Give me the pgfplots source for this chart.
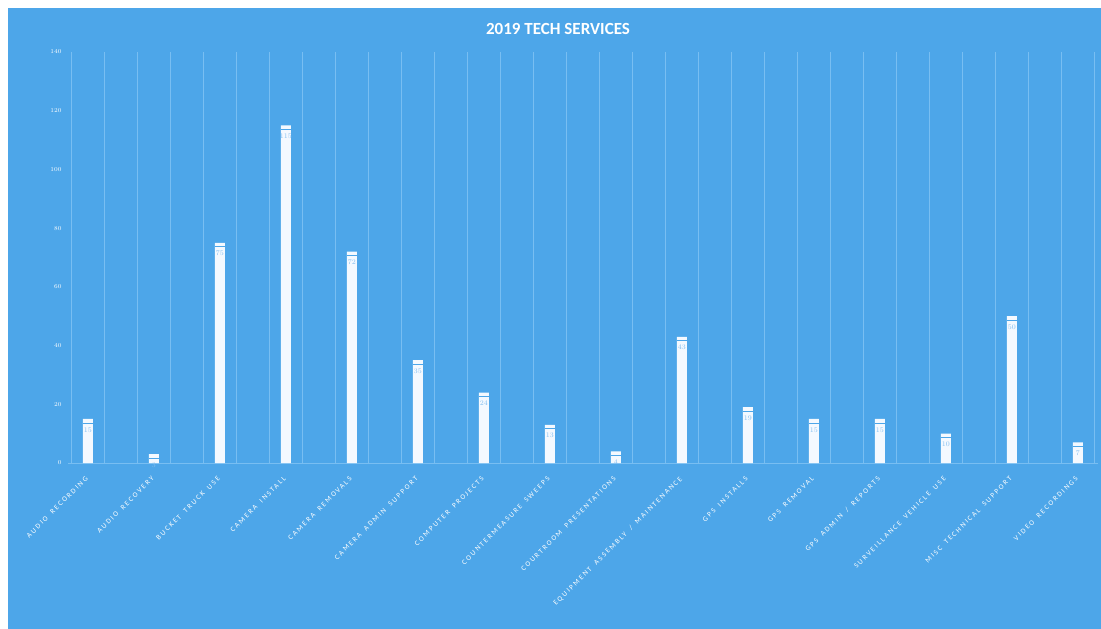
\documentclass[border=0pt]{standalone}
\usepackage{pgfplots}
\pgfplotsset{compat=1.18}
\usepackage{pgfplotstable}
\usepackage{fontspec}
\setmainfont{Carlito}
\newfontfamily\spaced[LetterSpace=26, WordSpace=1.7]{Carlito}
\definecolor{bg}{RGB}{77,166,233}
\definecolor{gridc}{RGB}{120,190,242}
\definecolor{lbl}{RGB}{130,190,240}
\definecolor{barc}{RGB}{244,249,255}

\pgfplotstableread{
x v
0 15
1 3
2 75
3 115
4 72
5 35
6 24
7 13
8 4
9 43
10 19
11 15
12 15
13 10
14 50
15 7
}\datatable

\begin{document}
\begin{tikzpicture}
\path[use as bounding box] (-68pt,-166pt) rectangle (1033pt,463pt);
\fill[white] (-68pt,-166pt) rectangle (1033pt,463pt);
\fill[bg] (-60pt,-166pt) rectangle (1033pt,455pt);
\begin{axis}[
  scale only axis, width=1029.6pt, height=411pt,
  xmin=-0.3, xmax=15.3, ymin=0, ymax=140,
  axis lines=left,
  x axis line style={draw=gridc, line width=0.8pt, -},
  y axis line style={draw=none},
  major tick length=0pt,
  ytick={0,20,...,140},
  yticklabel style={white, font=\fontsize{6.5}{7}\selectfont, xshift=-3pt},
  xtick={0,...,15},
  xticklabels={AUDIO RECORDING, AUDIO RECOVERY, BUCKET TRUCK USE, CAMERA INSTALL, CAMERA REMOVALS, CAMERA ADMIN SUPPORT, COMPUTER PROJECTS, COUNTERMEASURE SWEEPS, COURTROOM PRESENTATIONS, EQUIPMENT ASSEMBLY / MAINTENANCE, GPS INSTALLS, GPS REMOVAL, GPS ADMIN / REPORTS, SURVEILLANCE VEHICLE USE, MISC TECHNICAL SUPPORT, VIDEO RECORDINGS},
  xticklabel style={white, rotate=45, anchor=north east, font=\spaced\fontsize{7.2}{8}\selectfont, inner sep=1pt, xshift=-10pt, yshift=-6pt},
  extra x ticks={-0.25,0.25,...,15.25},
  extra x tick labels={},
  extra x tick style={grid=major, major grid style={draw=gridc, line width=0.5pt}},
  clip=false,
]
\addplot[ybar, bar width=10pt, fill=barc, draw=none,
  nodes near coords,
  every node near coord/.append style={anchor=north, yshift=-5pt, text=lbl, font=\fontsize{7}{8}\selectfont}]
  table[x=x, y=v] {\datatable};
\addplot[only marks, mark=-, mark size=5pt, mark options={draw=bg, line width=1pt}]
  table[x=x, y expr=\thisrow{v}-1.4] {\datatable};
\end{axis}
\node[white, font=\bfseries\fontsize{17}{19}\selectfont] at (490pt,434pt) {2019 TECH SERVICES};
\end{tikzpicture}
\end{document}
